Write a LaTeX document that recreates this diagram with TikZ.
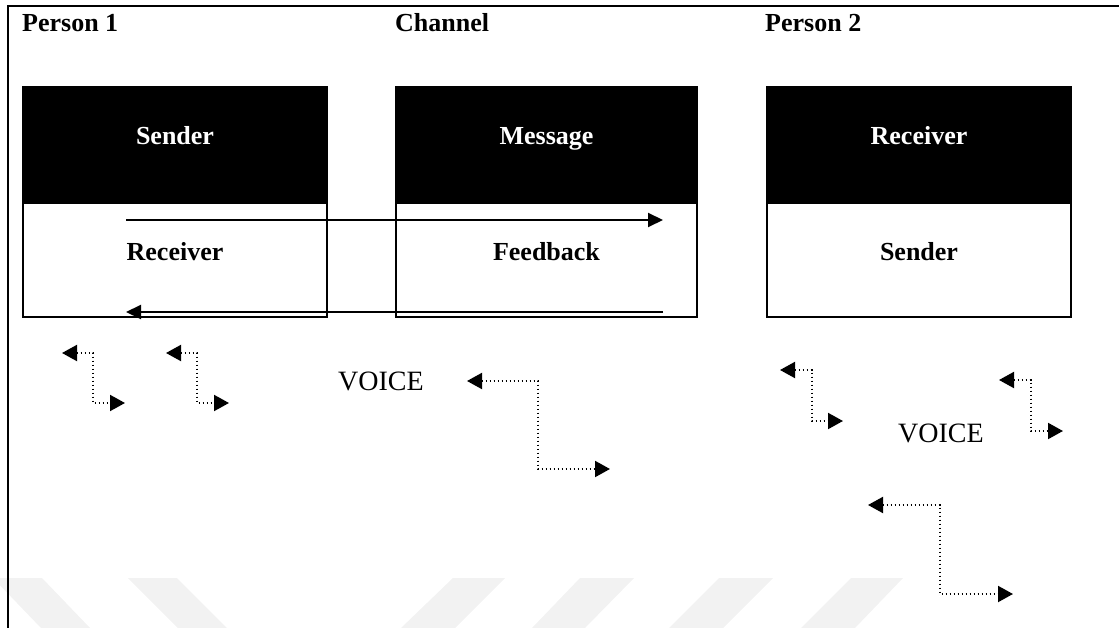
\documentclass[tikz,border=0pt]{standalone}
\usepackage{fontspec}
\setmainfont{Liberation Serif}
\usetikzlibrary{arrows.meta}

\tikzset{
  frameline/.style={line width=2pt},
  darkpart/.style={rectangle, draw=black, fill=black, line width=2pt, inner sep=0pt,
    minimum width=#1, minimum height=116pt, anchor=north west},
  lightpart/.style={rectangle, draw=black, fill=white, line width=2pt, inner sep=0pt,
    minimum width=#1, minimum height=114pt, anchor=north west},
  heading/.style={inner sep=0pt, anchor=base west, font=\fontsize{26}{30}\selectfont\bfseries},
  partlabel/.style={inner sep=0pt, anchor=base, font=\fontsize{26}{30}\selectfont\bfseries},
  voicelabel/.style={inner sep=0pt, anchor=base west, font=\fontsize{28}{32}\selectfont},
  flowarrow/.style={line width=2pt, -{Triangle[length=15pt,width=14pt]}},
  soundwave/.style={line width=2pt, dash pattern=on 1.8pt off 2.2pt,
    {Triangle[length=15pt,width=16pt]}-{Triangle[length=15pt,width=16pt]}},
  mark stripe/.style={fill=black!5, draw=none},
}

\begin{document}
\begin{tikzpicture}[x=1pt, y=-1pt]
\useasboundingbox (0,0) rectangle (1119,628);

% faint stripes along the lower edge
\fill[mark stripe] (-7,578) -- (42,578) -- (90,628) -- (41,628) -- cycle;
\fill[mark stripe] (128,578) -- (177,578) -- (227,628) -- (178,628) -- cycle;
\fill[mark stripe] (453,578) -- (505,578) -- (455,628) -- (401,628) -- cycle;
\fill[mark stripe] (580,578) -- (634,578) -- (585,628) -- (532,628) -- cycle;
\fill[mark stripe] (719,578) -- (773,578) -- (723,628) -- (669,628) -- cycle;
\fill[mark stripe] (851,578) -- (903,578) -- (855,628) -- (801,628) -- cycle;

% outer frame (top and left only)
\coordinate (fbl) at (8,628);
\coordinate (ftl) at (8,6.5);
\coordinate (ftr) at (1119,6.5);
\draw[frameline] (fbl) -- (ftl) -- (ftr);

% column headings
\node[heading] (h1) at (22,32) {Person 1};
\node[heading] (h2) at (395,32) {Channel};
\node[heading] (h3) at (765,32) {Person 2};

% Person 1
\node[darkpart=304pt] (p1top) at (22,86) {};
\node[lightpart=304pt] (p1bot) at (22,202) {};
% Channel
\node[darkpart=301pt] (chtop) at (395,86) {};
\node[lightpart=301pt] (chbot) at (395,202) {};
% Person 2
\node[darkpart=304pt] (p2top) at (766,86) {};
\node[lightpart=304pt] (p2bot) at (766,202) {};

% labels inside the boxes
\node[partlabel, text=white] (l1) at (p1top.center) {Sender};
\node[partlabel, text=white] (l2) at (chtop.center) {Message};
\node[partlabel, text=white] (l3) at (p2top.center) {Receiver};
\node[partlabel] (l4) at ([yshift=-1pt]p1bot.center) {Receiver};
\node[partlabel] (l5) at ([yshift=-1pt]chbot.center) {Feedback};
\node[partlabel] (l6) at ([yshift=-1pt]p2bot.center) {Sender};

% message and feedback flows
\coordinate (msgstart) at (126,220);
\coordinate (msgend) at (663,220);
\coordinate (fbstart) at (663,312);
\coordinate (fbend) at (126,312);
\draw[flowarrow] (msgstart) -- (msgend);
\draw[flowarrow] (fbstart) -- (fbend);

% voices
\node[voicelabel] (v1) at (338,390) {VOICE};
\node[voicelabel] (v2) at (898,442) {VOICE};

% sound waves
\coordinate (w1a) at (62,353);   \coordinate (w1b) at (125,403);
\coordinate (w2a) at (166,353);  \coordinate (w2b) at (229,403);
\coordinate (w3a) at (467,381);  \coordinate (w3b) at (610,469);
\coordinate (w4a) at (780,370);  \coordinate (w4b) at (843,421);
\coordinate (w5a) at (999,380);  \coordinate (w5b) at (1063,431);
\coordinate (w6a) at (868,505);  \coordinate (w6b) at (1013,594);
\draw[soundwave] (w1a) -- ++(31,0) |- (w1b);
\draw[soundwave] (w2a) -- ++(31,0) |- (w2b);
\draw[soundwave] (w3a) -- ++(71,0) |- (w3b);
\draw[soundwave] (w4a) -- ++(32,0) |- (w4b);
\draw[soundwave] (w5a) -- ++(32,0) |- (w5b);
\draw[soundwave] (w6a) -- ++(72,0) |- (w6b);
\end{tikzpicture}
\end{document}
